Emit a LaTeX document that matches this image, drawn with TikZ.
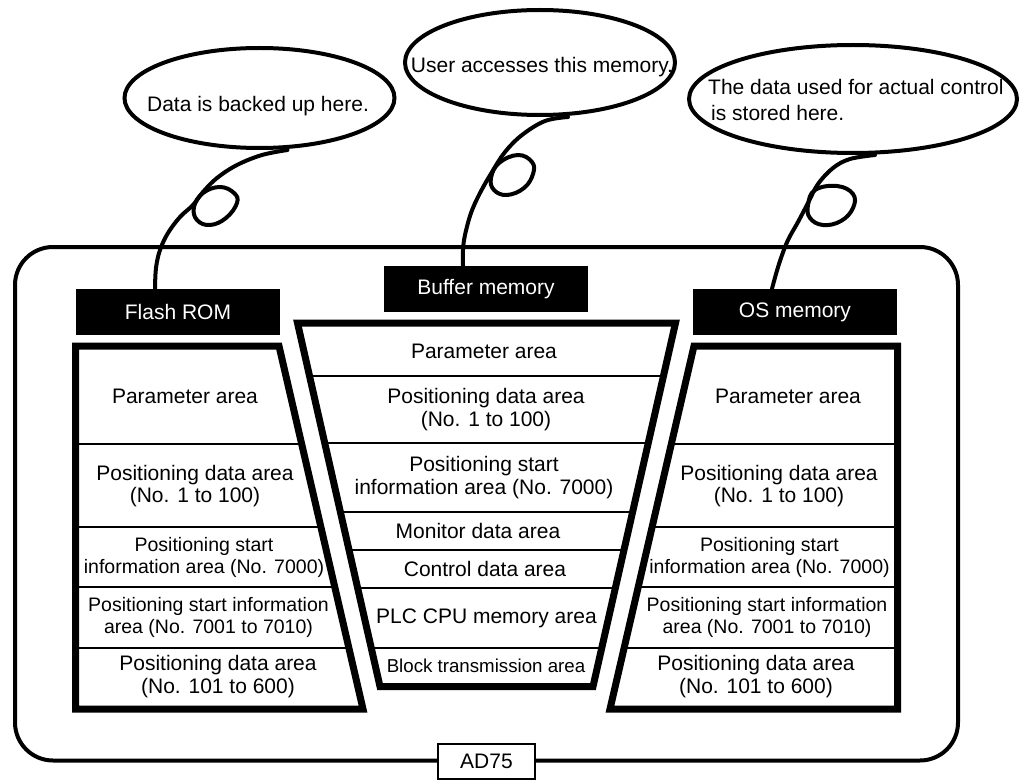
\documentclass[tikz,border=0pt]{standalone}
\usepackage{fontspec}
\setmainfont{Liberation Sans}
\usetikzlibrary{shapes.geometric,calc}
\begin{document}
\begin{tikzpicture}[x=1pt,y=-1pt,
  bubble/.style={ellipse, draw, line width=4pt, inner sep=0pt},
  bubbletext/.style={anchor=base, inner sep=0pt, font=\fontsize{21}{26}\selectfont},
  tail/.style={line width=4pt, line cap=round, line join=round},
  frame/.style={line width=4pt, rounded corners=38pt},
  membox/.style={line width=7pt, line join=miter},
  divider/.style={line width=1.8pt},
  title/.style={fill=black, text=white, minimum width=204pt, minimum height=46pt, inner sep=0pt, font=\fontsize{21}{22}\selectfont},
  areatext/.style={align=center, inner sep=0pt, font=\fontsize{21}{22.5}\selectfont},
  areasmall/.style={align=center, inner sep=0pt, font=\fontsize{19.5}{22}\selectfont},
  areatiny/.style={align=center, inner sep=0pt, font=\fontsize{18.7}{22}\selectfont},
  tag/.style={draw, line width=1.7pt, fill=white, minimum width=97pt, minimum height=35pt, inner sep=0pt, font=\fontsize{21}{22}\selectfont}
]
\path[fill=white,use as bounding box] (0,0) rectangle (1029,781);

% outer frame
\draw[frame] (15,247) rectangle (958,760.5);

% callout bubbles
\node[bubble, minimum width=270pt, minimum height=100pt] (c1) at (259.5,98) {};
\node[bubble, minimum width=270pt, minimum height=105pt] (c2) at (540,62.5) {};
\node[bubble, minimum width=328pt, minimum height=108pt] (c3) at (853,99) {};
\node[bubbletext] (t1) at (258,112) {Data is backed up here.};
\node[bubbletext] (t2) at (542,73) {User accesses this memory.};
\node[bubbletext, anchor=base west] (t3a) at (708,95) {The data used for actual control};
\node[bubbletext, anchor=base west] (t3b) at (711,121) {is stored here.};

% memory titles
\node[title] (flash) at (178,312) {Flash ROM};
\node[title] (buffer) at (486,289) {Buffer memory};
\node[title] (os) at (795,312) {OS memory};

% tails
\coordinate (t1s) at ($(c1.south)+(28,0)$);
\coordinate (t1e) at ($(flash.north)+(-23,0)$);
\coordinate (t2s) at ($(c2.south)+(28,0)$);
\coordinate (t2e) at ($(buffer.north)+(-23,0)$);
\coordinate (t3s) at ($(c3.south)+(22,0)$);
\coordinate (t3e) at ($(os.north)+(-23,0)$);

\draw[tail] plot[smooth, tension=0.6] coordinates {(t1s) (262,155) (237,165) (217,178) (203,192) (193,205) (180,217) (168,233) (160,250) (156,268) (t1e)};
\draw[tail] plot[smooth cycle, tension=0.7] coordinates {(203,193) (220,187) (234,193) (237,203) (226,218) (210,225) (197,220) (194,207)};

\draw[tail] plot[smooth, tension=0.6] coordinates {(t2s) (545,121) (522,135) (505,152) (492,172) (480,193) (471,213) (465,235) (463,250) (t2e)};
\draw[tail] plot[smooth cycle, tension=0.7] coordinates {(499,163) (518,155) (532,162) (533,174) (524,188) (507,195) (494,190) (491,178)};

\draw[tail] plot[smooth, tension=0.6] coordinates {(t3s) (850,159) (833,168) (818,184) (808,203) (798,222) (788,240) (781,258) (776,274) (t3e)};
\draw[tail] plot[smooth cycle, tension=0.7] coordinates {(815,190) (837,186) (853,194) (853,208) (841,221) (823,225) (810,218) (808,205)};

% Flash ROM block
\begin{scope}
\clip (75.5,346) -- (279,346) -- (363,709) -- (75.5,709) -- cycle;
\foreach \yy in {444,527,587,648} \draw[divider] (60,\yy) -- (400,\yy);
\end{scope}
\draw[membox] (75.5,346) -- (279,346) -- (363,709) -- (75.5,709) -- cycle;
\node[areatext] (f1) at (185,396.5) {Parameter area};
\node[areatext] (f2) at (195,486) {Positioning data area\\(No. 1 to 100)};
\node[areasmall] (f3) at (204,557) {Positioning start\\information area (No. 7000)};
\node[areasmall] (f4) at (208.5,617.5) {Positioning start information\\area (No. 7001 to 7010)};
\node[areatext] (f5) at (218,676.5) {Positioning data area\\(No. 101 to 600)};

% Buffer memory block
\begin{scope}
\clip (297.5,323) -- (675.5,323) -- (593,686.5) -- (380,686.5) -- cycle;
\foreach \yy in {376,443,512,550,588,648} \draw[divider] (280,\yy) -- (700,\yy);
\end{scope}
\draw[membox] (297.5,323) -- (675.5,323) -- (593,686.5) -- (380,686.5) -- cycle;
\node[areatext] (b1) at (484,351.5) {Parameter area};
\node[areatext] (b2) at (486,409.5) {Positioning data area\\(No. 1 to 100)};
\node[areatext] (b3) at (484,477.5) {Positioning start\\information area (No. 7000)};
\node[areatext] (b4) at (478,531) {Monitor data area};
\node[areatext] (b5) at (485,569) {Control data area};
\node[areatext] (b6) at (486.5,618) {PLC CPU memory area};
\node[areatiny] (b7) at (486,665.5) {Block transmission area};

% OS memory block
\begin{scope}
\clip (694,346) -- (897.5,346) -- (897.5,709) -- (610,709) -- cycle;
\foreach \yy in {444,527,587,648} \draw[divider] (580,\yy) -- (920,\yy);
\end{scope}
\draw[membox] (694,346) -- (897.5,346) -- (897.5,709) -- (610,709) -- cycle;
\node[areatext] (o1) at (788,396.5) {Parameter area};
\node[areatext] (o2) at (779,486) {Positioning data area\\(No. 1 to 100)};
\node[areasmall] (o3) at (769.5,557) {Positioning start\\information area (No. 7000)};
\node[areasmall] (o4) at (767,617.5) {Positioning start information\\area (No. 7001 to 7010)};
\node[areatext] (o5) at (756,676.5) {Positioning data area\\(No. 101 to 600)};

% module tag
\node[tag] (ad) at (486.5,761.5) {AD75};
\end{tikzpicture}
\end{document}
